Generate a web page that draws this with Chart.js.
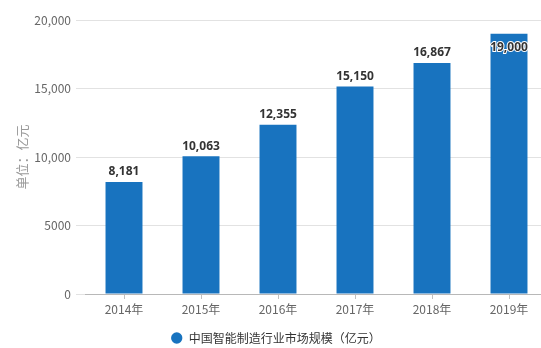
<!DOCTYPE html>
<html>
<head>
<meta charset="utf-8">
<script src="https://cdn.jsdelivr.net/npm/chart.js@4/dist/chart.umd.min.js"></script>
<style>
  html, body { margin: 0; padding: 0; background: #fff; overflow: hidden; }
  #wrap { width: 550px; height: 354px; }
</style>
</head>
<body>
<div id="wrap"><canvas id="chart" width="550" height="354"></canvas></div>
<script>
// data
const years = ['2014年', '2015年', '2016年', '2017年', '2018年', '2019年'];
const marketSize = [8181, 10063, 12355, 15150, 16867, 19000];
const seriesName = '中国智能制造行业市场规模（亿元）';
const yTitle = '单位：亿元';

const cjk = "'Noto Sans CJK SC', 'Noto Sans', sans-serif";

function fmt(v){
    // no separator for 4 digit numbers, like the original
    if (v >= 10000) return v.toLocaleString('en-US');
    return String(v);
}

// value labels above the bars
const barLabels = {
    id: 'barLabels',
    afterDatasetsDraw(chart){
        const ctx = chart.ctx;
        const meta = chart.getDatasetMeta(0);
        const area = chart.chartArea;
        ctx.save();
        ctx.font = "bold 12px 'Noto Sans', sans-serif";
        ctx.textAlign = 'center';
        ctx.textBaseline = 'middle';
        meta.data.forEach(function(bar, i){
            let txt = marketSize[i].toLocaleString('en-US');
            let y = bar.y - 10;
            if (y - 6 < area.top) {
                // no room above -> put it inside the bar
                y = bar.y + 14;
                ctx.lineWidth = 2;
                ctx.strokeStyle = '#fff';
                ctx.strokeText(txt, bar.x, y);
            }
            ctx.fillStyle = '#333';
            ctx.fillText(txt, bar.x, y);
        });
        ctx.restore();
    }
};

new Chart(document.getElementById('chart'), {
    type: 'bar',
    data: {
        labels: years,
        datasets: [{
            label: seriesName,
            data: marketSize,
            backgroundColor: '#1873bf',
            barPercentage: 0.48,
            categoryPercentage: 1
        }]
    },
    options: {
        responsive: false,
        animation: false,
        layout: { padding: { top: 20, right: 2.5, left: 4, bottom: 0 } },
        plugins: {
            legend: {
                position: 'bottom',
                labels: {
                    usePointStyle: true,
                    pointStyle: 'circle',
                    boxWidth: 12,
                    boxHeight: 8,
                    padding: 6,
                    color: '#333',
                    font: { family: cjk, size: 12 }
                }
            },
            tooltip: { enabled: false }
        },
        scales: {
            x: {
                offset: true,
                grid: {
                    offset: false,
                    drawOnChartArea: false,
                    drawTicks: true,
                    tickLength: 5,
                    tickColor: '#c0c0c0'
                },
                border: { color: '#b8b8b8' },
                ticks: {
                    color: '#666',
                    padding: 3,
                    font: { family: cjk, size: 12 }
                },
                afterFit(scale){ scale.height = 32; }
            },
            y: {
                min: 0,
                max: 20000,
                grid: {
                    color: '#e2e2e2',
                    tickLength: 9.5,
                    tickColor: '#e2e2e2'
                },
                border: { display: false },
                ticks: {
                    stepSize: 5000,
                    padding: 5,
                    color: '#666',
                    font: { family: cjk, size: 12 },
                    callback: function(v){ return fmt(v); }
                },
                title: {
                    display: true,
                    text: yTitle,
                    color: '#999',
                    font: { family: cjk, size: 13 },
                    padding: { top: 10, bottom: 0 }
                },
                afterFit(scale){ scale.width = 81.5; }
            }
        }
    },
    plugins: [barLabels]
});
</script>
</body>
</html>
